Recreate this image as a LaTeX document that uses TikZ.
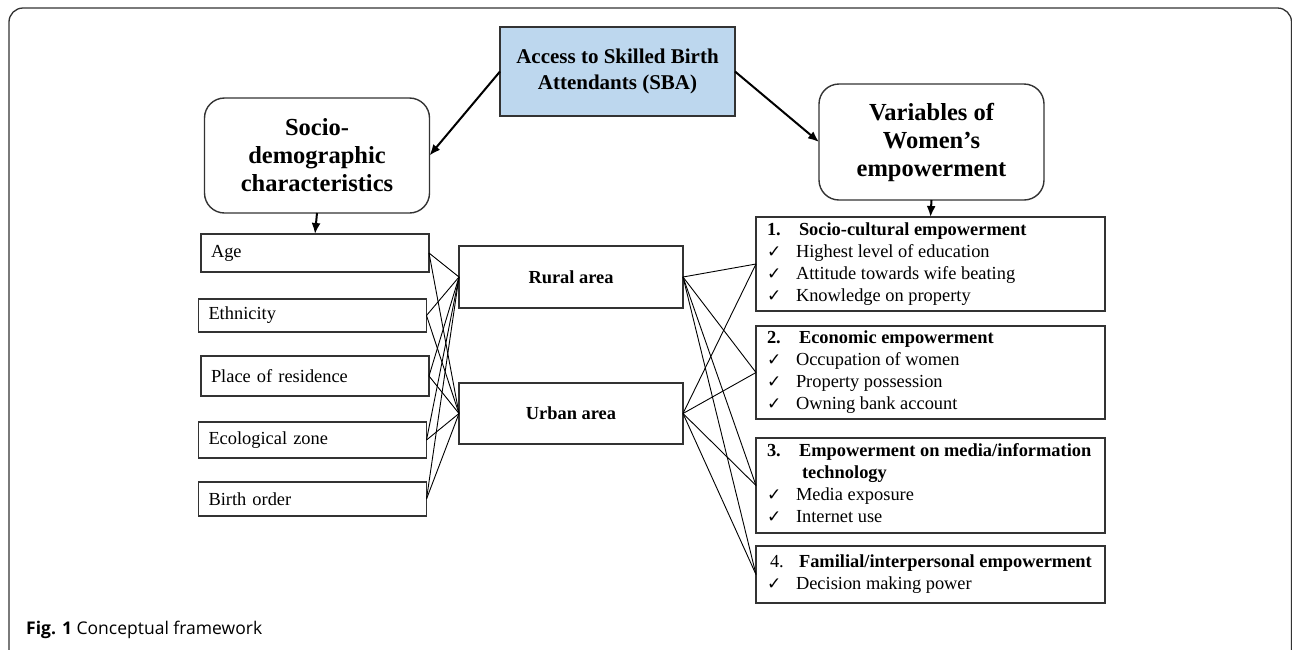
\documentclass[tikz,border=0pt]{standalone}
\usepackage{fontspec}
\setmainfont{Liberation Serif}
\newfontfamily\symfont{DejaVu Sans}
\newfontfamily\capfont{Open Sans}
\usetikzlibrary{arrows.meta}
\definecolor{sbablue}{HTML}{BDD7EE}
\definecolor{edge}{HTML}{333333}
\newcommand{\ck}{\makebox[29pt][l]{{\symfont\fontsize{17}{17}\selectfont ✓}}}
\newcommand{\num}[1]{\makebox[32pt][l]{#1}}
\newcommand{\blk}[1]{\makebox[327pt][l]{\begin{tabular}{@{}l@{}}#1\end{tabular}}}
\begin{document}
\begin{tikzpicture}[x=1pt,y=-1pt,
  box/.style={draw=edge, line width=1.4pt, inner sep=0pt, outer sep=0pt},
  head/.style={box, rounded corners=20pt, align=center, minimum width=225pt,
    font=\fontsize{24.5}{28}\selectfont\bfseries},
  item/.style={box, text width=208pt, inner xsep=10pt, align=left,
    font=\fontsize{18.4}{22}\selectfont},
  area/.style={box, minimum width=224pt, font=\fontsize{18.4}{22}\selectfont\bfseries},
  emp/.style={box, inner xsep=11pt, font=\fontsize{18.4}{22}\selectfont},
  link/.style={line width=0.9pt, black},
  arr/.style={line width=2pt, black, -{Latex[length=11pt,width=9pt]}}]
\useasboundingbox (0,0) rectangle (1292,649);
\draw[line width=1.3pt, edge, rounded corners=14pt] (9,8) rectangle (1291.5,668);

\node[box, fill=sbablue, minimum width=235pt, minimum height=89pt, align=center,
  font=\fontsize{21}{26}\selectfont\bfseries] (access) at (617.5,71.5)
  {Access to Skilled Birth\\Attendants (SBA)};
\node[head, minimum height=115pt] (socio) at (317,155.5)
  {Socio-\\demographic\\characteristics};
\node[head, minimum height=116pt] (women) at (931.5,142)
  {Variables of\\Women’s\\empowerment};

\node[item, minimum height=38pt] (age) at (315,253) {Age};
\node[item, minimum height=33pt] (eth) at (312.5,315.5) {Ethnicity};
\node[item, minimum height=40pt] (place) at (315,376) {Place of residence};
\node[item, minimum height=36pt] (eco) at (312.5,440) {Ecological zone};
\node[item, minimum height=34pt] (birth) at (312.5,499) {Birth order};

\node[area, minimum height=62pt] (rural) at (571,277) {Rural area};
\node[area, minimum height=61pt] (urban) at (571,413.5) {Urban area};

\node[emp, minimum height=94pt] (b1) at (930.5,264) {\blk{%
  \num{\textbf{1.}}\textbf{Socio-cultural empowerment}\\
  \ck Highest level of education\\
  \ck Attitude towards wife beating\\
  \ck Knowledge on property}};
\node[emp, minimum height=93pt] (b2) at (930.5,372.5) {\blk{%
  \num{\textbf{2.}}\textbf{Economic empowerment}\\
  \ck Occupation of women\\
  \ck Property possession\\
  \ck Owning bank account}};
\node[emp, minimum height=95pt] (b3) at (930.5,485.5) {\blk{%
  \num{\textbf{3.}}\textbf{Empowerment on media/information}\\
  \hspace*{35pt}\textbf{technology}\\
  \ck Media exposure\\
  \ck Internet use}};
\node[emp, minimum height=57pt] (b4) at (930.5,574.5) {\blk{%
  \hspace*{3pt}\makebox[29pt][l]{4.}\textbf{Familial/interpersonal empowerment}\\
  \ck Decision making power}};

\draw[arr] (access.west) -- (socio.east);
\draw[arr] (access.east) -- (women.west);
\draw[arr] (socio.south) -- (age.north);
\draw[arr] (women.south) -- (b1.north);

\foreach \s in {age,eth,place,eco,birth}{
  \draw[link] (\s.east) -- (rural.west);
  \draw[link] (\s.east) -- (urban.west);
}
\foreach \t in {b1,b2,b3,b4}{
  \draw[link] (rural.east) -- (\t.west);
  \draw[link] (urban.east) -- (\t.west);
}

\node[anchor=base west, inner sep=0pt, font=\capfont\fontsize{17.5}{20}\selectfont] (cap)
  at (26,634) {\textbf{Fig. 1} Conceptual framework};
\end{tikzpicture}
\end{document}
